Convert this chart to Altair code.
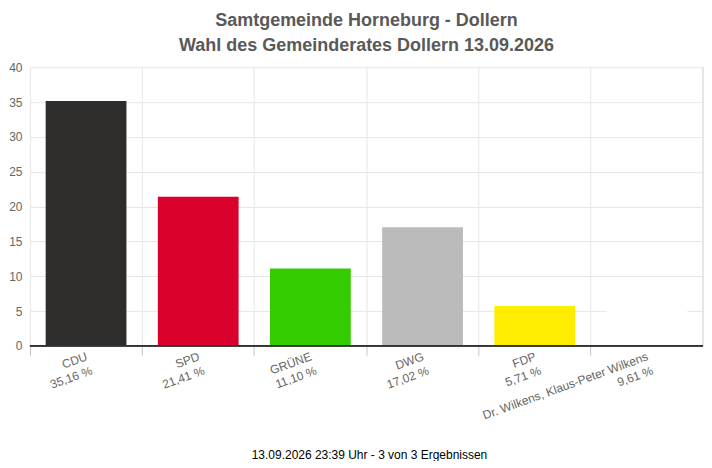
import altair as alt
import pandas as pd

parties = ["CDU", "SPD", "GRÜNE", "DWG", "FDP", "Dr. Wilkens, Klaus-Peter Wilkens"]
values = [35.16, 21.41, 11.10, 17.02, 5.71, 9.61]
pct_labels = ["35,16 %", "21,41 %", "11,10 %", "17,02 %", "5,71 %", "9,61 %"]
colors = ["#2f2d2b", "#d9002b", "#33cc00", "#bbbbbb", "#ffec00", "#ffffff"]
y_ticks = [0, 5, 10, 15, 20, 25, 30, 35, 40]
title_lines = ["Samtgemeinde Horneburg - Dollern", "Wahl des Gemeinderates Dollern 13.09.2026"]
footer = ["13.09.2026 23:39 Uhr - 3 von 3 Ergebnissen"]

keys = [f"{p}|{l}" for p, l in zip(parties, pct_labels)]
df = pd.DataFrame({"key": keys, "party": parties, "value": values, "color": colors})

W, H = 674, 279
FONT = "Liberation Sans"

x_enc = alt.X(
    "key:N",
    sort=keys,
    scale=alt.Scale(paddingInner=0, paddingOuter=0),
    axis=alt.Axis(
        title=None,
        bandPosition=0,
        grid=True,
        gridColor="#e6e6e6",
        ticks=True,
        tickSize=10,
        tickColor="#c8c8c8",
        domain=False,
        labelExpr="split(datum.value, '|')",
        labelAngle=340,
        labelAlign="right",
        labelBaseline="top",
        labelOffset=-1,
        labelPadding=-5,
        labelLineHeight=15,
        labelFont=FONT,
        labelFontSize=12,
        labelColor="#666666",
        labelOverlap=False,
        labelBound=False,
        labelFlush=False,
    ),
)

bars = alt.Chart(df).mark_bar(width=alt.RelativeBandSize(0.72)).encode(
    x=x_enc,
    y=alt.Y(
        "value:Q",
        scale=alt.Scale(domain=[0, 40], nice=False),
        axis=alt.Axis(
            title=None,
            values=y_ticks,
            grid=True,
            gridColor="#e6e6e6",
            ticks=False,
            domain=False,
            labelFont=FONT,
            labelFontSize=12,
            labelColor="#666666",
            labelPadding=8,
        ),
    ),
    color=alt.Color("party:N", scale=alt.Scale(domain=parties, range=colors), legend=None),
)

right_grid = alt.Chart(df).mark_rule(color="#e6e6e6").encode(
    x=alt.value(W), y=alt.value(0), y2=alt.value(H)
)

baseline = alt.Chart(df).mark_rule(color="#333333", strokeWidth=1).encode(
    x=alt.value(0), x2=alt.value(W), y=alt.value(H)
)

footer_text = alt.Chart(pd.DataFrame({"t": footer})).mark_text(
    font=FONT, fontSize=12, color="#000000", baseline="middle", align="center"
).encode(text="t:N", x=alt.value(W / 2 + 3), y=alt.value(388))

chart = alt.layer(right_grid, bars, baseline, footer_text).properties(
    width=W,
    height=H,
    padding={"left": 0, "top": 4, "right": 0, "bottom": 0},
    title=alt.TitleParams(
        text=title_lines,
        font=FONT,
        fontSize=18,
        fontWeight="bold",
        color="#595959",
        lineHeight=25,
        anchor="middle",
        offset=6,
    ),
).configure_view(stroke=None)

chart.save("out.html", embed_options={"renderer": "svg", "actions": False})
